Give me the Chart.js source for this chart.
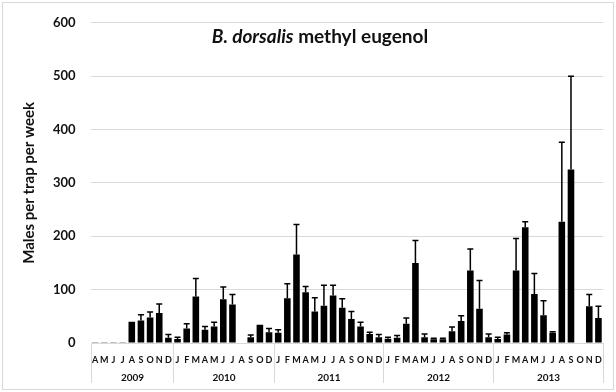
<!DOCTYPE html>
<html>
<head>
<meta charset="utf-8">
<script src="https://cdn.jsdelivr.net/npm/chart.js@4"></script>
<style>
  body { margin: 0; background: #fff; }
  canvas { display: block; }
</style>
</head>
<body>
<canvas id="myChart" width="616" height="392"></canvas>
<script>
const years = ['2009', '2010', '2011', '2012', '2013'];
const monthsPerYear = [9, 11, 12, 12, 12];
const months = [
  'A', 'M', 'J', 'J', 'A', 'S', 'O', 'N', 'D',
  'J', 'F', 'M', 'A', 'M', 'J', 'J', 'A', 'S', 'O', 'D',
  'J', 'F', 'M', 'A', 'M', 'J', 'J', 'A', 'S', 'O', 'N', 'D',
  'J', 'F', 'M', 'A', 'M', 'J', 'J', 'A', 'S', 'O', 'N', 'D',
  'J', 'F', 'M', 'A', 'M', 'J', 'J', 'A', 'S', 'O', 'N', 'D'
];
// mean males per trap per week
const males = [
  0.5, 0.5, 0.5, 0.5, 40, 42, 48, 56, 10,
  7.5, 27, 87, 25, 31, 82, 72, 1, 11, 34, 20,
  19, 84, 166, 95, 59, 70, 89, 66, 45, 31, 17, 11,
  8, 10, 36, 150, 11, 7, 7, 22, 41, 136, 64, 11,
  7.5, 16, 136, 217, 92, 52, 19, 227, 325, 1, 69, 47
];
// standard error (upper bar only)
const se = [
  0, 0, 0, 0, 0, 11, 10, 17, 6,
  3.5, 9, 34, 6, 8, 23, 19, 0, 4, 0, 7,
  6, 27, 56, 11, 26, 38, 19, 17, 14, 8, 3, 5,
  3, 4, 11, 42, 6, 2, 2, 8, 10, 40, 53, 6,
  3.5, 3, 60, 10, 38, 27, 2, 149, 175, 0, 22, 22
];

const FONT = 'Lato, "Liberation Sans", sans-serif';
const GRID = '#d9d9d9';

const errorBars = {
  id: 'errorBars',
  afterDatasetsDraw(chart) {
    const ctx = chart.ctx;
    const y = chart.scales.y;
    const bars = chart.getDatasetMeta(0).data;
    ctx.save();
    ctx.strokeStyle = '#000';
    ctx.lineWidth = 1.5;
    bars.forEach((bar, i) => {
      if (!se[i]) return;
      const top = y.getPixelForValue(males[i] + se[i]);
      ctx.beginPath();
      ctx.moveTo(bar.x, bar.y);
      ctx.lineTo(bar.x, top);
      ctx.moveTo(bar.x - 3, top);
      ctx.lineTo(bar.x + 3, top);
      ctx.stroke();
    });
    ctx.restore();
  }
};

const yearAxis = {
  id: 'yearAxis',
  afterDraw(chart) {
    const ctx = chart.ctx;
    const x = chart.scales.x;
    const area = chart.chartArea;
    const w = x.getPixelForValue(1) - x.getPixelForValue(0);
    ctx.save();
    ctx.strokeStyle = GRID;
    ctx.lineWidth = 1;
    ctx.fillStyle = '#111';
    ctx.font = 'bold 10px ' + FONT;
    ctx.textAlign = 'center';
    ctx.textBaseline = 'middle';
    let start = 0;
    const edge = (k) => Math.round(x.getPixelForValue(k) - w / 2) + 0.5;
    ctx.beginPath();
    ctx.moveTo(edge(0), area.bottom);
    ctx.lineTo(edge(0), area.bottom + 40);
    years.forEach((yr, j) => {
      const end = start + monthsPerYear[j];
      const a = edge(start), b = edge(end);
      ctx.moveTo(b, area.bottom);
      ctx.lineTo(b, area.bottom + 40);
      ctx.fillText(yr, (a + b) / 2, area.bottom + 35);
      start = end;
    });
    ctx.stroke();

    // title with italic species name
    const part1 = 'B. dorsalis';
    const part2 = ' methyl eugenol';
    ctx.textAlign = 'left';
    ctx.font = 'italic bold 19px ' + FONT;
    const w1 = ctx.measureText(part1).width;
    ctx.font = 'bold 19px ' + FONT;
    const w2 = ctx.measureText(part2).width;
    const cx = 320;
    let tx = cx - (w1 + w2) / 2;
    ctx.font = 'italic bold 19px ' + FONT;
    ctx.fillText(part1, tx, 37);
    ctx.font = 'bold 19px ' + FONT;
    ctx.fillText(part2, tx + w1, 37);

    // outer frame
    ctx.strokeStyle = GRID;
    ctx.strokeRect(2.5, 2.5, 611, 387);
    ctx.restore();
  }
};

const config = {
  type: 'bar',
  data: {
    labels: months,
    datasets: [{
      data: males,
      backgroundColor: '#000',
      borderWidth: 0,
      categoryPercentage: 1,
      barPercentage: 0.72
    }]
  },
  options: {
    responsive: false,
    animation: false,
    layout: { padding: { left: 7, right: 13, top: 17, bottom: 0 } },
    plugins: {
      legend: { display: false },
      tooltip: { enabled: false }
    },
    scales: {
      y: {
        min: 0,
        max: 600,
        ticks: {
          stepSize: 100,
          color: '#111',
          font: { family: FONT, size: 13, weight: 'bold' },
          padding: 15
        },
        grid: { color: GRID, drawTicks: false },
        border: { display: false },
        title: {
          display: true,
          text: 'Males per trap per week',
          color: '#111',
          font: { family: FONT, size: 15, weight: 'bold' },
          padding: { top: 13, bottom: 0 }
        }
      },
      x: {
        ticks: {
          autoSkip: false,
          maxRotation: 0,
          color: '#111',
          font: { family: FONT, size: 9, weight: 'bold' },
          padding: 4
        },
        grid: { display: false },
        border: { display: false },
        afterFit(scale) { scale.height = 49; }
      }
    }
  },
  plugins: [errorBars, yearAxis]
};

const chart = new Chart(document.querySelector('#myChart'), config);
</script>
</body>
</html>
